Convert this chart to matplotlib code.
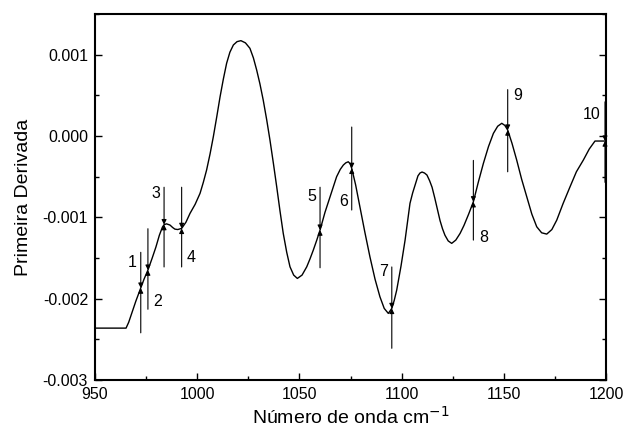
import numpy as np
import matplotlib.pyplot as plt
from matplotlib.ticker import MultipleLocator, FormatStrFormatter

plt.rcParams['font.family'] = ['Liberation Sans', 'DejaVu Sans']

# first derivative spectrum (y in units of 1e-3)
wavenumber = [950.0, 965.2, 966.5, 968.0, 970.0, 972.4, 974.0, 975.9, 978.0, 979.8,
              981.5, 983.0, 983.8, 985.0, 986.7, 988.0, 989.1, 990.5, 992.4, 994.5,
              996.5, 999.0, 1001.4, 1003.0, 1004.6, 1006.3, 1007.9, 1009.6, 1011.2, 1012.8,
              1014.4, 1016.0, 1017.7, 1019.5, 1021.4, 1023.6, 1025.8, 1027.5, 1029.1, 1030.7,
              1032.3, 1034.0, 1035.6, 1037.3, 1038.9, 1040.5, 1042.1, 1043.8, 1045.4, 1047.2,
              1049.0, 1051.3, 1053.6, 1055.2, 1056.8, 1058.5, 1060.1, 1062.5, 1065.0, 1066.6,
              1068.2, 1070.0, 1071.5, 1072.7, 1073.9, 1074.8, 1075.6, 1077.5, 1079.6, 1082.0,
              1084.5, 1087.0, 1089.4, 1091.5, 1093.5, 1095.2, 1096.4, 1097.6, 1099.7, 1101.7,
              1103.0, 1104.1, 1105.4, 1106.6, 1108.0, 1109.0, 1110.0, 1111.2, 1112.4, 1113.7,
              1114.9, 1116.2, 1117.3, 1118.8, 1120.0, 1121.2, 1122.8, 1124.5, 1126.5, 1128.6,
              1130.5, 1132.8, 1135.1, 1137.5, 1140.0, 1142.5, 1144.9, 1147.0, 1149.0, 1150.5,
              1151.9, 1154.0, 1156.3, 1158.7, 1161.2, 1163.7, 1166.1, 1168.5, 1171.0, 1173.5,
              1175.9, 1179.0, 1182.4, 1185.5, 1188.9, 1191.8, 1194.6, 1199.5]
derivative = [-2.362, -2.362, -2.290, -2.180, -2.030, -1.870, -1.760, -1.649, -1.500, -1.366,
              -1.220, -1.120, -1.090, -1.080, -1.095, -1.125, -1.145, -1.150, -1.136, -1.060,
              -0.951, -0.840, -0.705, -0.570, -0.419, -0.220, -0.009, 0.240, 0.483, 0.700,
              0.894, 1.030, 1.119, 1.160, 1.172, 1.145, 1.078, 0.960, 0.811, 0.640,
              0.442, 0.200, -0.050, -0.340, -0.624, -0.920, -1.197, -1.430, -1.608, -1.710,
              -1.751, -1.710, -1.608, -1.510, -1.403, -1.280, -1.157, -0.940, -0.747, -0.620,
              -0.501, -0.410, -0.357, -0.330, -0.317, -0.340, -0.398, -0.600, -0.870, -1.180,
              -1.485, -1.760, -1.977, -2.120, -2.181, -2.120, -2.020, -1.895, -1.600, -1.280,
              -1.030, -0.828, -0.700, -0.603, -0.490, -0.455, -0.443, -0.455, -0.480, -0.550,
              -0.630, -0.760, -0.880, -1.040, -1.140, -1.220, -1.290, -1.320, -1.280, -1.198,
              -1.100, -0.960, -0.809, -0.570, -0.337, -0.130, 0.032, 0.120, 0.156, 0.130,
              0.073, -0.090, -0.296, -0.530, -0.747, -0.960, -1.116, -1.190, -1.206, -1.150,
              -1.034, -0.830, -0.624, -0.440, -0.296, -0.160, -0.062, -0.062]

# numbered bands: position, value on curve, line ends, label place
band_labels = ['1', '2', '3', '4', '5', '6', '7', '8', '9', '10']
band_x = [972.4, 975.9, 983.8, 992.4, 1060.1, 1075.6, 1095.2, 1135.1, 1151.9, 1199.5]
band_y = [-1.870, -1.649, -1.090, -1.136, -1.157, -0.398, -2.120, -0.809, 0.073, -0.062]
line_top = [-1.43, -1.14, -0.63, -0.63, -0.63, 0.11, -1.61, -0.30, 0.57, 0.42]
line_bottom = [-2.42, -2.13, -1.61, -1.61, -1.62, -0.91, -2.61, -1.28, -0.44, -0.57]
label_pos = [(970.5, -1.55, 'right'), (978.5, -2.03, 'left'), (982.0, -0.71, 'right'),
             (995.0, -1.49, 'left'), (1058.3, -0.74, 'right'), (1073.8, -0.80, 'right'),
             (1093.4, -1.66, 'right'), (1137.8, -1.25, 'left'), (1154.5, 0.50, 'left'),
             (1197.5, 0.26, 'right')]

scale = 1e-3
y = np.array(derivative) * scale

fig = plt.figure(figsize=(6.24, 4.37), dpi=100)
ax = fig.add_axes([0.1522, 0.1304, 0.819, 0.8376])

ax.plot(wavenumber, y, color='black', lw=1.0)

for i in range(len(band_labels)):
    for yend in (line_top[i], line_bottom[i]):
        ax.annotate('', xy=(band_x[i], band_y[i] * scale), xytext=(band_x[i], yend * scale),
                    arrowprops=dict(arrowstyle='-|>', color='black', lw=0.8,
                                    mutation_scale=7, shrinkA=0, shrinkB=0))
    tx, ty, ha = label_pos[i]
    ax.text(tx, ty * scale, band_labels[i], ha=ha, va='center', fontsize=11.5)

ax.set_xlim(950, 1200)
ax.set_ylim(-0.003, 0.0015)
ax.xaxis.set_major_locator(MultipleLocator(50))
ax.xaxis.set_minor_locator(MultipleLocator(25))
ax.yaxis.set_major_locator(MultipleLocator(0.001))
ax.yaxis.set_minor_locator(MultipleLocator(0.0005))
ax.yaxis.set_major_formatter(FormatStrFormatter('%.3f'))

ax.tick_params(which='both', direction='in', right=True, labelsize=11.5, pad=5, width=1)
ax.tick_params(which='major', length=5)
ax.tick_params(which='minor', length=3)
for s in ax.spines.values():
    s.set_linewidth(1.5)

ax.set_xlabel('Número de onda cm$^{-1}$', fontsize=14, labelpad=3)
ax.set_ylabel('Primeira Derivada', fontsize=14, labelpad=8)

plt.savefig('out.png', dpi=100)
